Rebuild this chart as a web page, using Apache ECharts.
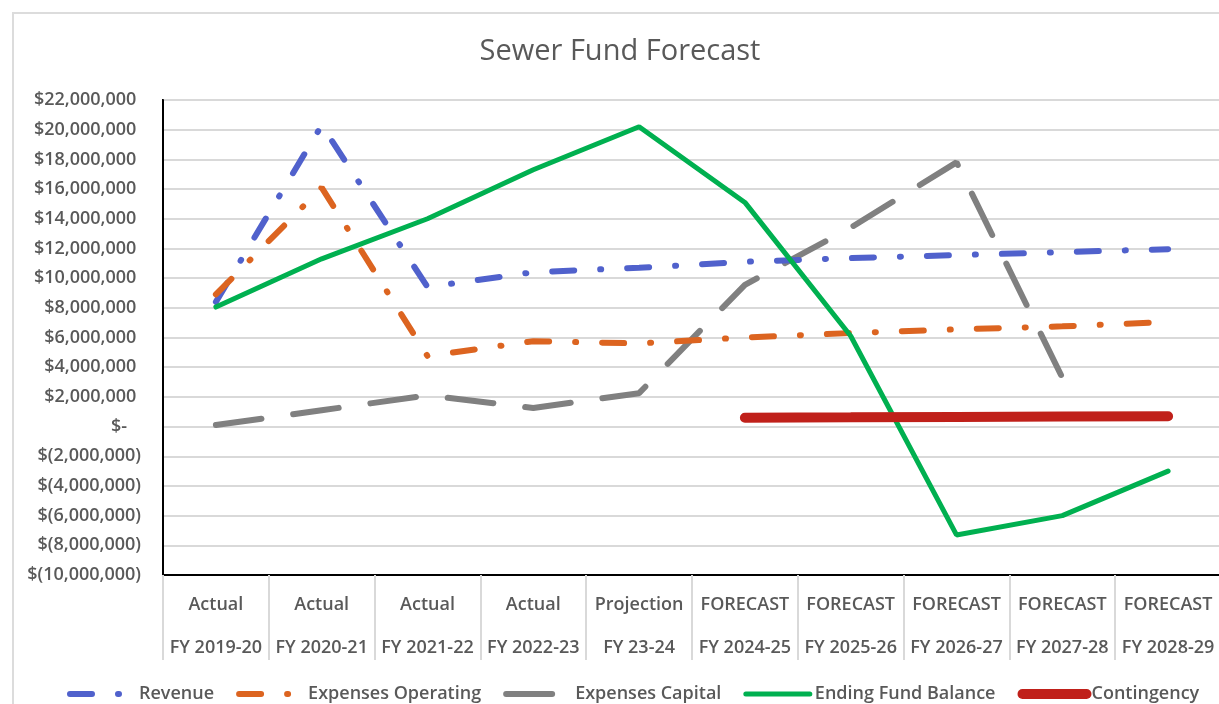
<!DOCTYPE html>
<html>
<head>
<meta charset="utf-8">
<script src="https://cdn.jsdelivr.net/npm/echarts@6/dist/echarts.min.js"></script>
<style>
  html, body { margin: 0; padding: 0; background: #fff; overflow: hidden; }
  #frame { position: absolute; left: 12px; top: 12px; width: 1300px; height: 800px; border: 2px solid #dcdcdc; }
  #chart { position: absolute; left: 0; top: 0; width: 1240px; height: 704px; }
</style>
</head>
<body>
<div id="frame"></div>
<div id="chart"></div>
<script>
// 数据
var phases = ['Actual', 'Actual', 'Actual', 'Actual', 'Projection', 'FORECAST', 'FORECAST', 'FORECAST', 'FORECAST', 'FORECAST'];
var years = ['FY 2019-20', 'FY 2020-21', 'FY 2021-22', 'FY 2022-23', 'FY 23-24', 'FY 2024-25', 'FY 2025-26', 'FY 2026-27', 'FY 2027-28', 'FY 2028-29'];
var revenue = [8400000, 20300000, 9400000, 10400000, 10700000, 11100000, 11350000, 11550000, 11750000, 11950000];
var expensesOperating = [8900000, 16100000, 4750000, 5750000, 5600000, 6000000, 6300000, 6550000, 6750000, 7050000];
var expensesCapital = [100000, 1100000, 2100000, 1250000, 2250000, 9550000, 13400000, 17800000, 3300000, null];
var endingFundBalance = [8050000, 11300000, 14000000, 17300000, 20200000, 15100000, 6100000, -7300000, -6000000, -3000000];
var contingency = [null, null, null, null, null, 600000, 620000, 650000, 680000, 700000];

var categories = phases.map(function (p, i) { return p + '\n' + years[i]; });

function money(v) {
  if (v === 0) return '$-   ';
  var s = Math.abs(v).toLocaleString('en-US');
  return v < 0 ? '$(' + s + ')' : '$' + s + ' ';
}

var textColor = '#595959';
var font = '"Open Sans", "Noto Sans", sans-serif';

var myChart = echarts.init(document.getElementById('chart'));
var option = {
  animation: false,
  title: {
    text: 'Sewer Fund Forecast',
    left: 'center',
    top: 32,
    textStyle: { fontFamily: font, fontSize: 29, fontWeight: 'normal', color: textColor }
  },
  legend: {
    left: 62,
    top: 680,
    itemWidth: 64,
    itemHeight: 8,
    itemGap: 22,
    itemStyle: { opacity: 0 },
    lineStyle: { width: 'inherit' },
    textStyle: { fontFamily: font, fontSize: 18, fontWeight: 600, color: textColor },
    data: ['Revenue', 'Expenses Operating', 'Expenses Capital', 'Ending Fund Balance', 'Contingency']
  },
  grid: {
    left: 163, top: 100, width: 1058, height: 475,
    show: true, borderColor: '#000', borderWidth: 2
  },
  xAxis: {
    type: 'category',
    data: categories,
    boundaryGap: true,
    axisLine: { onZero: false, lineStyle: { color: '#000', width: 2 } },
    axisTick: { show: true, interval: 0, length: 85, lineStyle: { color: '#d9d9d9', width: 2 } },
    axisLabel: {
      interval: 0, margin: 8,
      fontFamily: font, fontSize: 18, fontWeight: 600, color: textColor,
      lineHeight: 43
    }
  },
  yAxis: {
    type: 'value',
    min: -10000000,
    max: 22000000,
    interval: 2000000,
    axisLine: { show: true, lineStyle: { color: '#000', width: 2 } },
    axisTick: { show: false },
    splitLine: { lineStyle: { color: '#d9d9d9', width: 2 } },
    axisLabel: {
      margin: 22,
      formatter: money,
      fontFamily: font, fontSize: 18, fontWeight: 600, color: textColor
    }
  },
  series: [
    {
      name: 'Revenue', type: 'line', data: revenue, symbol: 'none', z: 3,
      lineStyle: { color: '#5061cc', width: 6, type: [22, 26, 1, 26], cap: 'round' },
      itemStyle: { color: '#5061cc' }
    },
    {
      name: 'Expenses Operating', type: 'line', data: expensesOperating, symbol: 'none', z: 3,
      lineStyle: { color: '#dc6420', width: 6, type: [22, 26, 1, 26], cap: 'round' },
      itemStyle: { color: '#dc6420' }
    },
    {
      name: 'Expenses Capital', type: 'line', data: expensesCapital, symbol: 'none', z: 2,
      lineStyle: { color: '#808080', width: 6, type: [46, 32], cap: 'round' },
      itemStyle: { color: '#808080' }
    },
    {
      name: 'Ending Fund Balance', type: 'line', data: endingFundBalance, symbol: 'none', z: 4,
      lineStyle: { color: '#00b050', width: 5, cap: 'round' },
      itemStyle: { color: '#00b050' }
    },
    {
      name: 'Contingency', type: 'line', data: contingency, symbol: 'none', z: 5,
      lineStyle: { color: '#c0201a', width: 10, cap: 'round' },
      itemStyle: { color: '#c0201a' }
    }
  ]
};
myChart.setOption(option);
</script>
</body>
</html>
